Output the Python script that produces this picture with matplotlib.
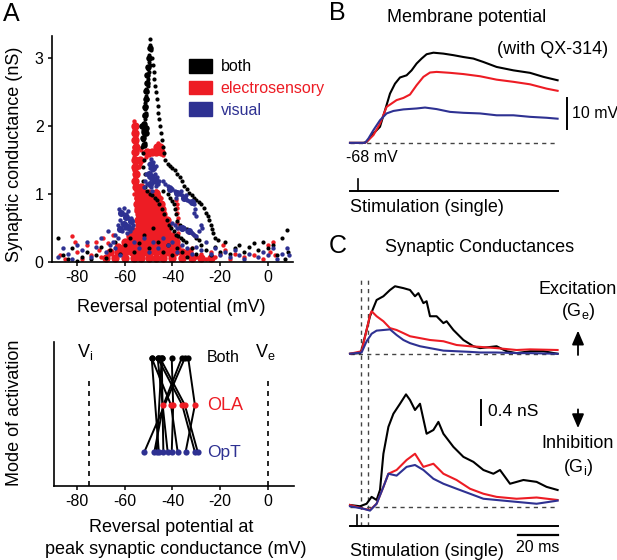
import numpy as np
import matplotlib
matplotlib.use('Agg')
import matplotlib.pyplot as plt
from matplotlib.patches import Patch

plt.rcParams['font.family'] = ['Liberation Sans', 'DejaVu Sans']
plt.rcParams['mathtext.fontset'] = 'custom'
plt.rcParams['mathtext.rm'] = 'Liberation Sans'
plt.rcParams['axes.unicode_minus'] = False

RED = '#ed1c24'
BLUE = '#2e3192'
W, H = 617, 560

# ---- panel A (top): reversal potential vs synaptic conductance, (mV, nS)
both_pts = [
    # tall column
    (-49.4, 3.28), (-49.6, 3.2), (-49.2, 3.12), (-49.8, 3.05), (-49.3, 3.0), (-50.0, 2.95),
    (-49.5, 2.9), (-50.3, 2.85), (-50.0, 2.8), (-50.6, 2.75), (-50.2, 2.7), (-50.8, 2.65),
    (-50.4, 2.6), (-51.0, 2.55), (-50.6, 2.5), (-51.2, 2.45), (-50.8, 2.4), (-51.4, 2.35),
    (-51.0, 2.3), (-51.6, 2.25), (-51.2, 2.2), (-51.8, 2.15), (-51.4, 2.1), (-52.0, 2.05),
    (-51.6, 2.0), (-52.2, 1.95), (-51.8, 1.9), (-52.0, 1.85), (-52.4, 1.8), (-51.6, 1.75),
    (-52.6, 1.7), (-52.2, 1.6), (-51.8, 1.5), (-52.4, 1.4), (-51.5, 1.3),
    # falling edge to the right
    (-48.6, 3.0), (-48.3, 2.9), (-47.9, 2.8), (-47.6, 2.7), (-47.2, 2.6), (-47.0, 2.5),
    (-46.6, 2.4), (-46.2, 2.3), (-45.9, 2.2), (-45.5, 2.1), (-45.2, 2.0), (-44.8, 1.9),
    (-44.4, 1.8), (-44.0, 1.7), (-43.6, 1.6), (-43.0, 1.5), (-42.0, 1.45), (-41.0, 1.42),
    (-40.0, 1.38), (-39.0, 1.35), (-38.0, 1.3), (-37.0, 1.25), (-36.0, 1.2), (-35.0, 1.12),
    (-34.0, 1.08), (-33.0, 1.02), (-32.0, 0.98), (-31.0, 0.95), (-30.0, 0.92), (-29.0, 0.88),
    (-28.0, 0.85), (-27.0, 0.8), (-26.0, 0.72), (-25.0, 0.68), (-24.5, 0.62), (-24.0, 0.55),
    (-23.5, 0.48), (-23.0, 0.42), (-22.0, 0.36), (-21.0, 0.32),
    # middle streaks
    (-52.5, 1.2), (-51.5, 1.1), (-50.5, 1.05), (-49.5, 1.0), (-48.5, 0.98), (-47.5, 0.95),
    (-46.5, 0.92), (-45.5, 0.85), (-44.5, 0.78), (-43.5, 0.7), (-42.5, 0.62), (-41.5, 0.55),
    (-40.5, 0.5), (-39.5, 0.45), (-38.5, 0.4), (-37.5, 0.38), (-36.5, 0.35), (-35.5, 0.33),
    (-34.5, 0.3), (-44.0, 1.05), (-42.0, 1.0), (-41.0, 0.95), (-40.0, 0.9), (-39.5, 0.85),
    (-39.0, 0.78), (-38.5, 0.7), (-38.0, 0.6), (-37.0, 0.55), (-36.0, 0.52), (-35.0, 0.5),
    (-34.0, 0.48), (-33.0, 0.45), (-32.0, 0.42), (-31.0, 0.4), (-30.0, 0.35), (-29.0, 0.32),
    # low scatter
    (-88, 0.35), (-86, 0.1), (-84, 0.05), (-82, 0.2), (-80, 0.02), (-78, 0.08), (-76, 0.15),
    (-74, 0.04), (-72, 0.1), (-70, 0.22), (-68, 0.06), (-66, 0.18), (-64, 0.3), (-62, 0.12),
    (-60, 0.25), (-58, 0.35), (-56, 0.15), (-54, 0.28), (-52, 0.4), (-50, 0.2), (-48, 0.5),
    (-46, 0.3), (-44, 0.15), (-42, 0.25), (-40, 0.1), (-38, 0.2), (-36, 0.15), (-34, 0.08),
    (-32, 0.2), (-30, 0.12), (-28, 0.25), (-26, 0.18), (-24, 0.1), (-22, 0.22), (-20, 0.15),
    (-18, 0.3), (-16, 0.12), (-14, 0.2), (-12, 0.25), (-10, 0.15), (-8, 0.22), (-6, 0.28),
    (-4, 0.18), (-2, 0.3), (0, 0.2), (2, 0.25), (4, 0.1), (6, 0.35), (7, 0.05), (8, 0.47),
    (8.5, 0.15),
]
both_core = [
    (-49.6, 3.15), (-49.9, 3.0), (-50.2, 2.88), (-50.5, 2.76), (-50.8, 2.64), (-51.0, 2.52),
    (-51.2, 2.4), (-51.4, 2.28), (-51.6, 2.16), (-51.8, 2.04), (-52.0, 1.92), (-52.2, 1.82),
    (-51.8, 1.72), (-51.2, 1.98), (-52.6, 2.0), (-51.0, 1.9),
]

electro_pts = [
    # column near -56 mV
    (-56.0, 2.08), (-55.5, 2.0), (-56.2, 1.95), (-55.8, 1.9), (-55.2, 1.85), (-56.0, 1.8),
    (-55.5, 1.75), (-56.3, 1.7), (-55.0, 1.65), (-55.8, 1.6), (-56.1, 1.55), (-55.3, 1.5),
    (-55.9, 1.45), (-55.6, 1.4), (-56.2, 1.35), (-55.0, 1.3), (-55.7, 1.25), (-56.0, 1.2),
    (-55.4, 1.15), (-55.8, 1.1), (-55.2, 1.05), (-56.1, 1.0), (-55.5, 0.95), (-55.0, 0.9),
    (-54.5, 0.85), (-54.8, 0.8), (-55.3, 0.75), (-54.2, 0.7),
    # upper band
    (-53, 1.65), (-52, 1.6), (-51, 1.55), (-50, 1.58), (-49, 1.62), (-48, 1.6), (-47, 1.65),
    (-46.5, 1.7), (-46, 1.75), (-45.5, 1.72), (-45, 1.68), (-44.5, 1.62), (-44, 1.58),
    (-52.5, 1.5), (-53.5, 1.45), (-54, 1.4), (-47, 1.05), (-46, 1.0), (-45, 0.95),
    # streak near -38 mV
    (-38.5, 0.92), (-38.3, 0.85), (-38.0, 0.8), (-38.2, 0.72), (-37.8, 0.65), (-38.0, 0.58),
    (-37.6, 0.5), (-37.5, 0.42), (-38, 0.35), (-39, 0.3), (-40, 0.28),
    # left and right tails
    (-87, 0.1), (-85, 0.05), (-82, 0.38), (-81, 0.3), (-80, 0.15), (-78, 0.05), (-76, 0.25),
    (-74, 0.1), (-72, 0.3), (-71, 0.18), (-70, 0.08), (-69, 0.35), (-67, 0.28), (-65, 0.4),
    (-36, 0.15), (-34, 0.1), (-32, 0.2), (-30, 0.08), (-28, 0.12), (-26, 0.05), (-24, 0.15),
    (-22, 0.08), (-20, 0.12), (-19, 0.25), (-18, 0.18), (-16, 0.05), (-14, 0.12), (-10, 0.08),
    (-6, 0.1), (-2, 0.05), (0, 0.25), (1, 0.15), (2, 0.3), (3, 0.1),
]
# dense part of the red cloud, one row per conductance level: V values (mV)
electro_core_rows = {
    2.0: [-55.8], 1.9: [-55.6], 1.8: [-55.9], 1.7: [-55.5, -46.5, -45.2],
    1.62: [-55.8, -50.5, -48.5, -47, -44.8], 1.5: [-55.6, -53.5], 1.4: [-55.9],
    1.3: [-55.5], 1.2: [-55.8], 1.1: [-55.4, -53],
    1.02: [-54, -52, -50, -47], 0.94: [-54.5, -52.5, -50.5, -48, -46],
    0.86: [-55, -53, -51, -49, -47, -45], 0.78: [-54.5, -52.5, -50.5, -48.5, -46.5, -44.5],
    0.7: [-54, -52, -50, -48, -46, -44], 0.62: [-54.5, -52.5, -50.5, -48.5, -46.5, -44.5, -42.5],
    0.54: [-54, -52, -50, -48, -46, -44, -42],
    0.46: [-56, -54.5, -52.5, -50.5, -48.5, -46.5, -44.5, -42.5],
    0.38: [-58, -56, -54, -52, -50, -48, -46, -44, -42, -40],
    0.3: [-60, -58.5, -56.5, -54.5, -52.5, -50.5, -48.5, -46.5, -44.5, -42.5, -40.5, -38.5],
    0.22: [-63, -60, -58, -56, -54, -52, -50, -48, -46, -44, -42, -40, -38],
    0.14: [-66, -63, -60, -57, -54.5, -52, -49.5, -47, -44.5, -42, -39, -36, -33],
    0.06: [-68, -64, -60, -56, -53, -50, -47, -44, -40, -36, -32, -28, -24],
}

visual_pts = [
    # upper cluster
    (-49, 1.52), (-48, 1.48), (-50, 1.45), (-47, 1.42), (-49.5, 1.38), (-48.5, 1.35),
    (-51, 1.3), (-47.5, 1.3), (-50, 1.25), (-49, 1.22), (-46.5, 1.25), (-51.5, 1.2),
    (-48, 1.18), (-50.5, 1.15), (-47, 1.12), (-49, 1.1), (-46, 1.15), (-52, 1.1),
    (-45.5, 1.2), (-48.5, 1.05),
    # diagonal streak
    (-44, 1.2), (-43, 1.15), (-42, 1.12), (-41, 1.1), (-40, 1.08), (-39, 1.05), (-38, 1.02),
    (-37, 1.0), (-36, 0.98), (-35, 0.95), (-34, 0.92), (-33, 0.9), (-32, 0.88), (-31, 0.85),
    (-30.5, 0.78), (-31, 0.72), (-30, 0.68), (-38.5, 0.95), (-36.5, 1.05), (-34.5, 0.98),
    # left cluster
    (-62.5, 0.78), (-61.5, 0.72), (-60.5, 0.8), (-59.5, 0.7), (-58.5, 0.75), (-57.5, 0.65),
    (-62, 0.62), (-61, 0.58), (-60, 0.65), (-59, 0.55), (-58, 0.6), (-57, 0.5), (-63, 0.55),
    (-62, 0.5), (-61, 0.45), (-60, 0.5), (-59, 0.42), (-58, 0.45), (-56.5, 0.55), (-64, 0.4),
    (-63, 0.35), (-65, 0.3),
    # mid-right cluster
    (-40, 0.58), (-39, 0.55), (-38, 0.5), (-37, 0.52), (-36, 0.48), (-35, 0.5), (-34, 0.46),
    (-33, 0.45), (-32, 0.42), (-31, 0.4), (-30, 0.38), (-29, 0.45), (-28, 0.55), (-27.5, 0.5),
    # low scatter
    (-88, 0.08), (-86, 0.2), (-84, 0.12), (-82, 0.05), (-80, 0.25), (-78, 0.18), (-76, 0.3),
    (-74, 0.08), (-72, 0.22), (-70, 0.35), (-68, 0.15), (-67, 0.45), (-66, 0.25), (-64, 0.2),
    (-62, 0.1), (-56, 0.3), (-54, 0.2), (-52, 0.35), (-50, 0.15), (-48, 0.3), (-46, 0.2),
    (-44, 0.35), (-42, 0.25), (-40, 0.3), (-38, 0.15), (-36, 0.25), (-34, 0.2), (-32, 0.12),
    (-30, 0.22), (-28, 0.18), (-26, 0.3), (-24, 0.12), (-22, 0.2), (-20, 0.1), (-18, 0.15),
    (-16, 0.08), (-14, 0.18), (-12, 0.1), (-10, 0.05), (-8, 0.12), (-4, 0.08), (-2, 0.15),
    (0, 0.1), (2, 0.2), (4, 0.05), (6, 0.12), (8, 0.2), (9, 0.1),
]
visual_core = [
    (-49, 1.45), (-48, 1.38), (-50, 1.3), (-48.5, 1.25), (-47, 1.2), (-49.5, 1.15),
    (-41, 1.08), (-38, 1.02), (-35, 0.95), (-32, 0.88),
    (-61.5, 0.72), (-59.5, 0.66), (-60.5, 0.56), (-58.5, 0.52), (-62, 0.48), (-57.5, 0.6),
    (-36, 0.5), (-33, 0.45),
]

# ---- panel A (bottom): reversal potential at peak conductance per cell (mV)
cell_both = [-48.7, -46.2, -45.2, -44.5, -40.3, -36.1, -34.8, -33.4, -48.7, -46.2, -44.5]
cell_ola = [-40.6, -35.9, -34.8, np.nan, -39.7, -43.8, np.nan, -30.6, np.nan, np.nan, np.nan]
cell_opt = [-37.8, -30.6, -29.4, -43.8, -40.3, -47.6, -51.8, -34.5, -45.7, -42.0, -46.6]
v_inh, v_exc = -75, 0

# ---- panel B: membrane potential (t in ms, V in mV above -68 mV)
b_t = [0, 6.7, 8.3, 11.7, 15, 17.5, 20, 22.5, 25, 28.3, 30.8, 33.3, 35.8, 38.3, 41.7, 46.7,
       51.7, 56.7, 61.7, 66.7, 73.3, 81.7, 90, 96.7, 103.8]
b_both = [0, 0, 0.3, 3.0, 5.2, 10.5, 15.9, 19.1, 21.1, 21.8, 23.4, 25.6, 27.2, 28.6, 29.1,
          28.8, 28.3, 27.7, 27.2, 26.1, 24.5, 23.4, 22.6, 21.3, 20.2]
b_t_red = [0, 7.5, 9.2, 11.7, 15, 18.3, 23.3, 26.7, 30, 33.3, 36.7, 40, 43.3, 50, 56.7, 65,
           73.3, 81.7, 90, 98.3, 103.8]
b_electro = [0, 0, 0.9, 2.5, 6.2, 11.6, 13.8, 14.5, 15.6, 18.6, 21.3, 22.7, 22.9, 22.6, 22.2,
             21.5, 20.4, 19.7, 18.9, 17.5, 16.8]
b_t_blue = [0, 7.5, 9.2, 11.7, 15, 18.3, 21.7, 26.7, 33.3, 37.5, 43.3, 50, 56.7, 65, 73.3,
            81.7, 90, 98.3, 103.8]
b_visual = [0, 0, 1.4, 4.1, 7.3, 9.5, 10.3, 10.8, 11.1, 11.4, 10.9, 10.0, 9.7, 9.5, 8.9, 8.9,
            8.4, 8.1, 7.8]

# ---- panel C: synaptic conductances (t in ms, nS)
ge_t_both = [0, 5, 5.8, 10, 13.3, 16.7, 20, 22.5, 26.7, 30, 32.5, 34.2, 36.7, 38.3, 40, 43.3,
             46.7, 48.3, 51.7, 56.7, 61.7, 65, 73.3, 78.3, 83.3, 90, 96.7, 103.8]
ge_both = [0.0, 0.01, 0.06, 0.6, 0.86, 0.92, 1.02, 1.08, 1.05, 1.02, 0.92, 0.97, 0.81, 0.84,
           0.6, 0.6, 0.49, 0.52, 0.38, 0.22, 0.12, 0.09, 0.12, 0.04, 0.01, 0.04, 0.04, 0.0]
ge_t = [0, 5.8, 8.3, 10, 10.8, 13.3, 16.7, 20, 23.3, 26.7, 30, 35, 40, 46.7, 53.3, 60, 65,
        73.3, 83.3, 90, 103.8]
ge_electro = [0.0, 0.04, 0.38, 0.62, 0.68, 0.6, 0.52, 0.41, 0.38, 0.33, 0.28, 0.25, 0.22, 0.2,
              0.14, 0.12, 0.11, 0.09, 0.06, 0.07, 0.06]
ge_visual = [0.0, 0.02, 0.2, 0.28, 0.32, 0.37, 0.38, 0.39, 0.3, 0.22, 0.17, 0.12, 0.09, 0.05,
             0.04, 0.03, 0.02, 0.02, 0.01, 0.01, 0.0]
gi_t_both = [0, 5, 8.3, 10.8, 13.3, 15, 16.7, 19.2, 21.7, 25, 28, 30, 32.5, 35, 38.3, 41.7,
             44.2, 46.7, 51.7, 56.7, 61.7, 66.7, 71.7, 75, 80, 86.7, 93.3, 98.3, 103.8]
gi_both = [0.03, 0.01, 0.05, 0.16, 0.11, 0.27, 0.85, 1.28, 1.49, 1.65, 1.8, 1.71, 1.55, 1.65,
           1.17, 1.23, 1.36, 1.17, 0.96, 0.8, 0.72, 0.59, 0.53, 0.59, 0.37, 0.43, 0.4, 0.32, 0.27]
gi_t = [0, 6.7, 10, 13.3, 16.7, 19.2, 23.3, 28.3, 32.5, 36.7, 41.7, 46.7, 53.3, 60, 66.7,
        73.3, 83.3, 93.3, 103.8]
gi_electro = [0.03, -0.03, -0.05, 0.05, 0.32, 0.53, 0.59, 0.75, 0.85, 0.64, 0.69, 0.53, 0.43,
              0.29, 0.21, 0.16, 0.13, 0.15, 0.11]
gi_visual = [0.01, -0.03, -0.06, 0.05, 0.32, 0.53, 0.5, 0.64, 0.67, 0.59, 0.45, 0.37, 0.29,
             0.21, 0.13, 0.11, 0.08, 0.05, 0.1]
ge_offset = 2.45


def px_axes(fig, left, top, right, bottom):
    return fig.add_axes([left / W, 1 - bottom / H, (right - left) / W, (bottom - top) / H])


def ftext(fig, x, y, s, **kw):
    kw.setdefault('fontsize', 13)
    return fig.text(x / W, 1 - y / H, s, **kw)


def style_axis(ax):
    for side in ('top', 'right'):
        ax.spines[side].set_visible(False)
    for side in ('left', 'bottom'):
        ax.spines[side].set_linewidth(1.2)
    ax.tick_params(direction='out', length=3, width=1.1, labelsize=11.5, pad=3)


fig = plt.figure(figsize=(W / 100, H / 100), dpi=100)

# panel A top
ax1 = px_axes(fig, 52, 36, 293, 262)
red_core = np.array([(v, g) for g, vs in electro_core_rows.items() for v in vs])
ax1.scatter(red_core[:, 0], red_core[:, 1], s=36, color=RED, linewidths=0)
arr = np.array(electro_pts)
ax1.scatter(arr[:, 0], arr[:, 1], s=10, color=RED, linewidths=0)
arr = np.array(both_core)
ax1.scatter(arr[:, 0], arr[:, 1], s=22, color='black', linewidths=0)
arr = np.array(both_pts)
ax1.scatter(arr[:, 0], arr[:, 1], s=9, color='black', linewidths=0)
arr = np.array(visual_core)
ax1.scatter(arr[:, 0], arr[:, 1], s=26, color=BLUE, linewidths=0)
arr = np.array(visual_pts)
ax1.scatter(arr[:, 0], arr[:, 1], s=10, color=BLUE, linewidths=0)
ax1.set_xlim(-90.5, 10.5)
ax1.set_ylim(0, 3.33)
ax1.set_xticks([-80, -60, -40, -20, 0])
ax1.set_yticks([0, 1, 2, 3])
style_axis(ax1)
handles = [Patch(color='black'), Patch(color=RED), Patch(color=BLUE)]
ax1.legend(handles, ['both', 'electrosensory', 'visual'], loc='upper left',
           bbox_to_anchor=(0.54, 0.925), frameon=False, fontsize=11.5, handlelength=1.45,
           handleheight=0.9, handletextpad=0.55, labelspacing=0.4, borderaxespad=0,
           labelcolor=['black', RED, BLUE])
ftext(fig, 171, 307, 'Reversal potential (mV)', ha='center', va='center')
ftext(fig, 15, 154, 'Synaptic conductance (nS)', ha='center', va='center', rotation=90)

# panel A bottom
ax2 = px_axes(fig, 54, 342, 294, 486)
for vb, vo, vp in zip(cell_both, cell_ola, cell_opt):
    xs = [vp, vo, vb] if not np.isnan(vo) else [vp, vb]
    ys = [1, 2, 3] if not np.isnan(vo) else [1, 3]
    ax2.plot(xs, ys, color='black', lw=1.4, zorder=1)
ax2.scatter(cell_both, [3] * len(cell_both), s=20, color='black', zorder=3, linewidths=0)
ax2.scatter(cell_ola, [2] * len(cell_ola), s=20, color=RED, zorder=3, linewidths=0)
ax2.scatter(cell_opt, [1] * len(cell_opt), s=20, color=BLUE, zorder=3, linewidths=0)
ax2.plot([v_inh, v_inh], [0.28, 2.6], color='black', lw=1.2, dashes=(3, 3))
ax2.plot([v_exc, v_exc], [0.28, 2.6], color='black', lw=1.2, dashes=(3, 3))
ax2.text(-25.5, 3, 'Both', fontsize=11.5, va='center')
ax2.text(-25.5, 2, 'OLA', fontsize=13, va='center', color=RED)
ax2.text(-25.5, 1, 'OpT', fontsize=12.5, va='center', color=BLUE)
ax2.text(v_inh - 1.5, 3.12, r'V$_\mathregular{i}$', fontsize=13, ha='center', va='center')
ax2.text(v_exc - 1.0, 3.12, r'V$_\mathregular{e}$', fontsize=13, ha='center', va='center')
ax2.set_xlim(-89.6, 10.9)
ax2.set_ylim(0.28, 3.34)
ax2.set_xticks([-80, -60, -40, -20, 0])
ax2.set_yticks([])
style_axis(ax2)
ftext(fig, 15, 413, 'Mode of activation', ha='center', va='center', rotation=90)
ftext(fig, 171, 528, 'Reversal potential at', ha='center', va='center')
ftext(fig, 176, 550, 'peak synaptic conductance (mV)', ha='center', va='center')

# panel B
axb = px_axes(fig, 340, 0, 617, 225)
axb.set_xlim(-5, 133.5)
axb.set_ylim(-26.5, 46.1)
axb.axis('off')
axb.plot([0, 104], [0, 0], color='#444444', lw=1.0, dashes=(3, 3))
axb.plot(b_t, b_both, color='black', lw=1.5)
axb.plot(b_t_red, b_electro, color=RED, lw=1.5)
axb.plot(b_t_blue, b_visual, color=BLUE, lw=1.5)
axb.plot([108.5, 108.5], [4.5, 14.5], color='black', lw=1.4)
axb.plot([0, 104], [-15.5, -15.5], color='black', lw=1.4)
axb.plot([4, 4], [-15.5, -11.6], color='black', lw=1.2)
ftext(fig, 467, 18, 'Membrane potential', ha='center', va='center')
ftext(fig, 608, 50, '(with QX-314)', ha='right', va='center')
ftext(fig, 572, 113, '10 mV', fontsize=11.5, ha='left', va='center')
ftext(fig, 346, 157, '-68 mV', fontsize=11.5, ha='left', va='center')
ftext(fig, 350, 208, 'Stimulation (single)', ha='left', va='center')

# panel C
axc = px_axes(fig, 340, 240, 617, 560)
axc.set_xlim(-5, 133.5)
axc.set_ylim(-0.85, 4.27)
axc.axis('off')
axc.plot([0, 104], [ge_offset, ge_offset], color='#444444', lw=1.0, dashes=(3, 3))
axc.plot([0, 104], [0, 0], color='#444444', lw=1.0, dashes=(3, 3))
for tx in (5.5, 9):
    axc.plot([tx, tx], [-0.304, 3.63], color='#444444', lw=1.0, dashes=(3, 3))
axc.plot(ge_t_both, np.array(ge_both) + ge_offset, color='black', lw=1.5)
axc.plot(ge_t, np.array(ge_electro) + ge_offset, color=RED, lw=1.5)
axc.plot(ge_t, np.array(ge_visual) + ge_offset, color=BLUE, lw=1.5)
axc.plot(gi_t_both, gi_both, color='black', lw=1.5)
axc.plot(gi_t, gi_electro, color=RED, lw=1.5)
axc.plot(gi_t, gi_visual, color=BLUE, lw=1.5)
axc.plot([65.5, 65.5], [1.31, 1.71], color='black', lw=1.4)
axc.plot([0, 104], [-0.304, -0.304], color='black', lw=1.4)
axc.plot([3.5, 3.5], [-0.304, -0.128], color='black', lw=1.2)
axc.plot([84, 104], [-0.448, -0.448], color='black', lw=1.6)
arrow = dict(arrowstyle='-|>,head_length=0.7,head_width=0.3', color='black', lw=1.3,
             mutation_scale=12, shrinkA=0, shrinkB=0)
axc.annotate('', xy=(114, 2.82), xytext=(114, 2.43), arrowprops=arrow)
axc.annotate('', xy=(114, 1.26), xytext=(114, 1.56), arrowprops=arrow)
ftext(fig, 480, 248, 'Synaptic Conductances', ha='center', va='center')
ftext(fig, 578, 290, 'Excitation', ha='center', va='center')
ftext(fig, 578, 312, r'(G$_\mathregular{e}$)', ha='center', va='center')
ftext(fig, 578, 443, 'Inhibition', ha='center', va='center')
ftext(fig, 578, 467, r'(G$_\mathregular{i}$)', ha='center', va='center')
ftext(fig, 488, 412, '0.4 nS', fontsize=12.5, ha='left', va='center')
ftext(fig, 538, 547, '20 ms', fontsize=11.5, ha='center', va='center')
ftext(fig, 350, 552, 'Stimulation (single)', ha='left', va='center')

# panel letters
ftext(fig, 3, 14, 'A', fontsize=18, ha='left', va='center')
ftext(fig, 329, 13, 'B', fontsize=18, ha='left', va='center')
ftext(fig, 329, 246, 'C', fontsize=18, ha='left', va='center')

fig.savefig('out.png', dpi=100)
